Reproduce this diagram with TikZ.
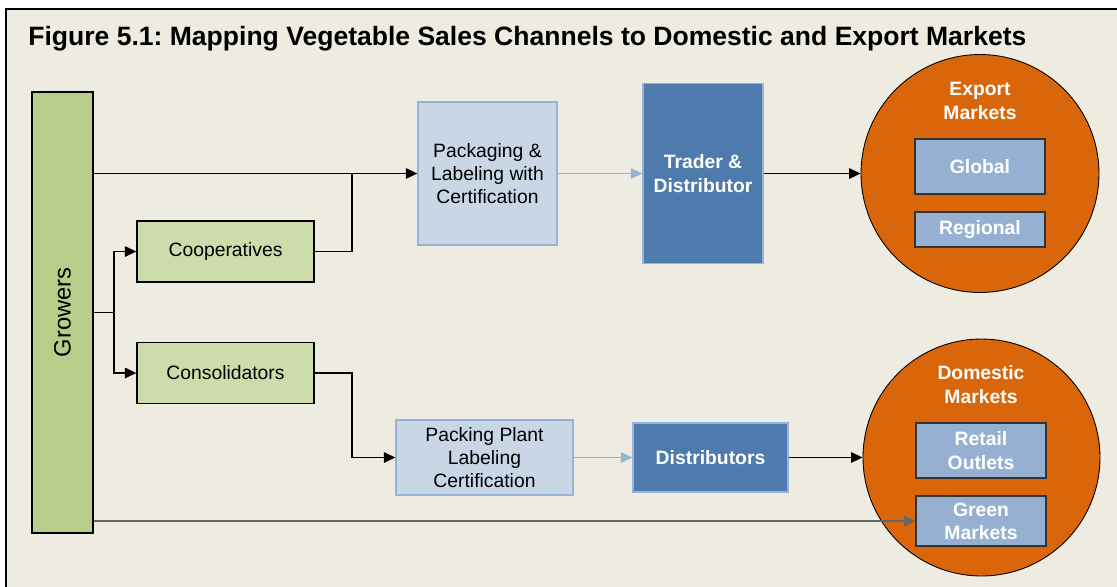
\documentclass[tikz,border=0pt]{standalone}
\usepackage{fontspec}
\setmainfont{Liberation Sans}
\usetikzlibrary{arrows.meta}
\definecolor{paper}{HTML}{EEEBE0}
\definecolor{growgreen}{HTML}{B9CD8A}
\definecolor{boxgreen}{HTML}{CDDCAA}
\definecolor{paleblue}{HTML}{C8D6E6}
\definecolor{edgeblue}{HTML}{95B3D7}
\definecolor{darkblue}{HTML}{4F7AAE}
\definecolor{marketorange}{HTML}{D9660B}
\definecolor{innerblue}{HTML}{95B0D0}
\frenchspacing
\begin{document}
\begin{tikzpicture}[x=0.02cm, y=-0.02cm,
	arr/.style={-{Triangle[length=6.5pt,width=6pt]}, line width=0.6pt},
	greenbox/.style={draw=black, line width=0.8pt, fill=boxgreen, minimum width=3.54cm, minimum height=1.22cm, font=\fontsize{11}{13}\selectfont},
	packbox/.style={draw=edgeblue, line width=0.8pt, fill=paleblue, align=center, font=\fontsize{11}{13.2}\selectfont},
	tradebox/.style={draw=edgeblue, line width=0.8pt, fill=darkblue, text=white, align=center, font=\fontsize{11}{13.2}\selectfont\bfseries},
	market/.style={circle, draw=black, line width=0.5pt, fill=marketorange, inner sep=0pt},
	outlet/.style={draw=black!80, line width=0.8pt, fill=innerblue, text=white, align=center, minimum width=2.6cm, font=\fontsize{11}{13.2}\selectfont\bfseries}]
	\useasboundingbox (0,0) rectangle (1117,586);
	\fill[white] (0,0) rectangle (1117,586);
	\draw[fill=paper, line width=1pt] (6,9) rectangle (1130,600);
	\node[anchor=base west, inner sep=0pt, font=\fontsize{15.1}{18}\selectfont\bfseries] (title) at (28,45) {Figure 5.1: Mapping Vegetable Sales Channels to Domestic and Export Markets};

	\node[draw=black, line width=0.8pt, fill=growgreen, minimum width=1.22cm, minimum height=8.82cm] (growers) at (62.5,312.5) {};
	\node[rotate=90, font=\fontsize{13.5}{16}\selectfont] (growlabel) at (growers.center) {Growers};
	\node[greenbox] (coop) at (225.5,251.5) {Cooperatives};
	\node[greenbox] (consol) at (225.5,373) {Consolidators};

	\node[packbox, minimum width=2.78cm, minimum height=2.86cm] (pack) at (487.5,173.5) {Packaging \&\\Labeling with\\Certification};
	\node[tradebox, minimum width=2.4cm, minimum height=3.6cm] (trader) at (703,173.5) {Trader \&\\Distributor};
	\node[packbox, minimum width=3.54cm, minimum height=1.5cm] (plant) at (484.5,457.5) {Packing Plant\\Labeling\\Certification};
	\node[tradebox, minimum width=3.1cm, minimum height=1.38cm] (distr) at (710.5,457.5) {Distributors};

	\node[market, minimum size=4.76cm] (export) at (980,173.5) {};
	\node[text=white, align=center, font=\fontsize{11}{13.2}\selectfont\bfseries] (explabel) at (980,101) {Export\\Markets};
	\node[outlet, minimum height=1.1cm] (global) at (980,166.5) {Global};
	\node[outlet, minimum height=0.7cm] (regional) at (980,229.5) {Regional};

	\node[market, minimum size=4.74cm] (domestic) at (981.5,457.5) {};
	\node[text=white, align=center, font=\fontsize{11}{13.2}\selectfont\bfseries] (domlabel) at (981,384.5) {Domestic\\Markets};
	\node[outlet, minimum height=1.1cm] (retail) at (981,450.5) {Retail\\Outlets};
	\node[outlet, minimum height=1.0cm] (green) at (981,521) {Green\\Markets};

	% growers to the first tier
	\coordinate (split) at (114,312.5);
	\coordinate (join) at (352,174);
	\draw[line width=0.6pt] (growers.east) -- (split);
	\draw[arr] (split) |- (coop.west);
	\draw[arr] (split) |- (consol.west);
	\draw[arr] (growers.east |- pack.west) -- (pack.west);
	\draw[line width=0.6pt] (coop.east) -| (join);
	\draw[arr] (consol.east) -| (join |- plant.west) -- (plant.west);
	\draw[arr, black!60] (growers.east |- green.west) -- (green.west);

	% handling to markets
	\draw[arr, edgeblue] (pack) -- (trader);
	\draw[arr, edgeblue] (plant) -- (distr);
	\draw[arr] (trader.east) -- (export.west);
	\draw[arr] (distr.east) -- (domestic.west);
\end{tikzpicture}
\end{document}
